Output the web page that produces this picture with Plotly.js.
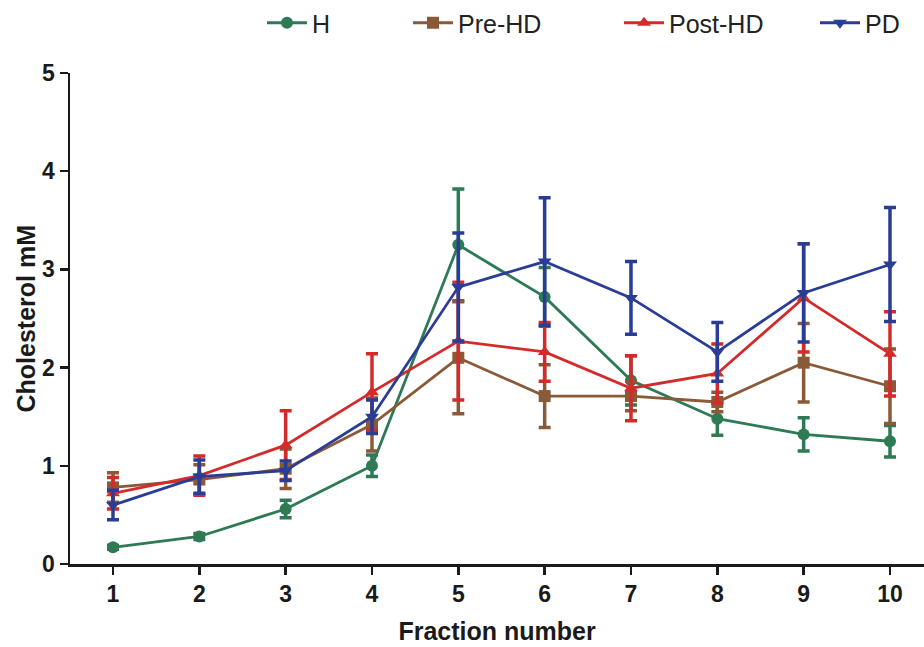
<!DOCTYPE html>
<html><head><meta charset="utf-8">
<script src="https://cdn.plot.ly/plotly-3.0.1.min.js"></script>
<style>html,body{margin:0;padding:0;background:#fff}#chart{width:924px;height:647px}</style>
</head><body><div id="chart"></div>
<script>
const fractions = [1,2,3,4,5,6,7,8,9,10];
const H_mean     = [0.17,0.28,0.56,1.00,3.25,2.72,1.87,1.48,1.32,1.25];
const H_err      = [0.02,0.03,0.09,0.11,0.57,0.30,0.25,0.17,0.17,0.16];
const preHD_mean = [0.78,0.86,0.97,1.42,2.10,1.71,1.71,1.65,2.05,1.81];
const preHD_err  = [0.15,0.15,0.20,0.27,0.57,0.32,0.15,0.10,0.40,0.38];
const postHD_mean= [0.72,0.90,1.21,1.75,2.27,2.16,1.79,1.94,2.71,2.14];
const postHD_err = [0.16,0.20,0.35,0.39,0.60,0.30,0.33,0.30,0.55,0.43];
const PD_mean    = [0.60,0.89,0.95,1.50,2.82,3.08,2.71,2.16,2.76,3.05];
const PD_err     = [0.15,0.17,0.10,0.17,0.55,0.65,0.37,0.30,0.50,0.58];
const seriesNames = ['H','Pre-HD','Post-HD','PD'];
const yTicks = [0,1,2,3,4,5];
const xTitle = 'Fraction number';
const yTitle = 'Cholesterol mM';

const colors = ['#2d7a55','#8a5a38','#d42a2a','#2a3d96'];
const symbols = ['circle','square','triangle-up','triangle-down'];
const means = [H_mean, preHD_mean, postHD_mean, PD_mean];
const errs = [H_err, preHD_err, postHD_err, PD_err];
const legendIds = ['legend','legend2','legend3','legend4'];
const legendX = [262, 408, 619, 815];

const traces = seriesNames.map((n,i)=>({
  x: fractions, y: means[i], name: n, type:'scatter', mode:'lines+markers',
  legend: legendIds[i],
  line:{color:colors[i], width:2.8},
  marker:{symbol:symbols[i], color:colors[i], size:12},
  error_y:{type:'data', array:errs[i], visible:true, color:colors[i], thickness:3.5, width:6}
}));

const bold = {family:'"Liberation Sans", Arial, sans-serif', weight:'bold', color:'#1a1a1a'};
const legFont = {family:'"Liberation Sans", Arial, sans-serif', size:25, color:'#222'};
const layout = {
  width:924, height:647,
  margin:{l:70, r:0, t:73, b:83, autoexpand:false},
  paper_bgcolor:'#fff', plot_bgcolor:'#fff',
  showlegend:true,
  xaxis:{range:[0.502,10.394], tickvals:fractions, ticktext:fractions.map(String), tickangle:0,
    automargin:true,
    showline:true, linecolor:'#1a1a1a', linewidth:2.5, ticks:'outside', ticklen:8, tickwidth:2.5, tickcolor:'#1a1a1a',
    showgrid:false, zeroline:false, tickfont:Object.assign({size:23},bold),
    title:{text:xTitle, font:Object.assign({size:25},bold), standoff:17}},
  yaxis:{range:[0,5], tickvals:yTicks, showline:true, linecolor:'#1a1a1a', linewidth:2.5, automargin:false,
    ticks:'outside', ticklen:8, tickwidth:2.5, tickcolor:'#1a1a1a', showgrid:false, zeroline:false,
    tickfont:Object.assign({size:23},bold)},
  annotations:[{text:yTitle, textangle:-90, xref:'paper', yref:'paper', x:(25-70)/854, y:0.5,
    xanchor:'center', yanchor:'middle', showarrow:false, font:Object.assign({size:25},bold)}]
};
legendIds.forEach((id,i)=>{
  layout[id] = {xref:'container', yref:'container', x:legendX[i]/924, xanchor:'left',
    y:1-23/647, yanchor:'middle', font:legFont, itemwidth:40, bgcolor:'rgba(0,0,0,0)', borderwidth:0};
});
Plotly.newPlot('chart', traces, layout, {displayModeBar:false, staticPlot:true});
</script></body></html>
